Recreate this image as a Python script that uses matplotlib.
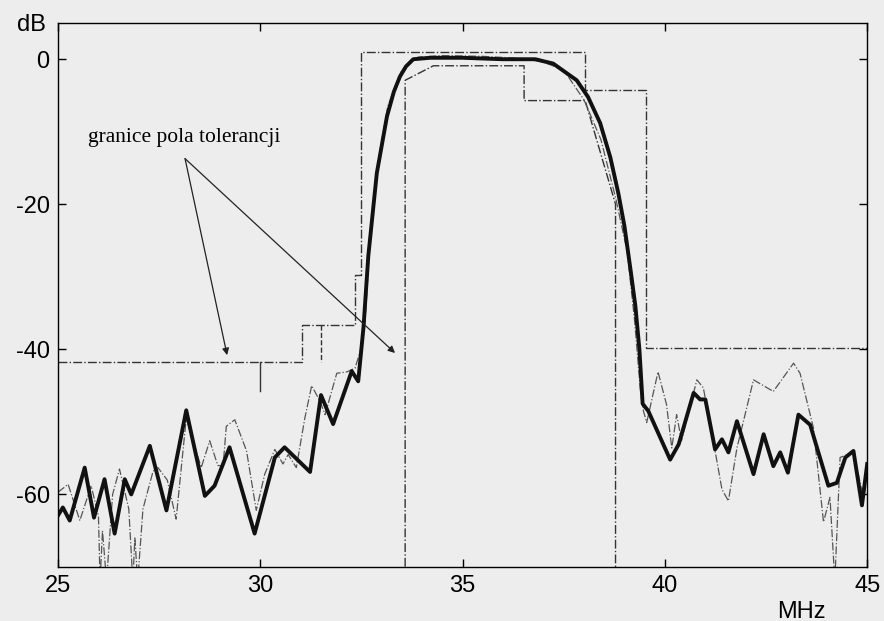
import matplotlib.pyplot as plt

plt.rcParams["axes.unicode_minus"] = False

# measured response (bold) and second response (thin dash-dot), MHz / dB
main_f = [25.00, 25.12, 25.29, 25.66, 25.89, 26.15, 26.40, 26.65, 26.81, 27.27,
          27.68, 28.17, 28.63, 28.87, 29.24, 29.86, 30.36, 30.60, 31.23, 31.50,
          31.80, 32.26, 32.42, 32.55, 32.67, 32.88, 33.13, 33.30, 33.45, 33.60,
          33.78, 34.20, 35.00, 36.00, 36.80, 37.24, 37.82, 38.10, 38.40, 38.65,
          38.85, 39.00, 39.15, 39.27, 39.37, 39.45, 39.59, 40.13, 40.34, 40.71,
          40.87, 41.00, 41.24, 41.41, 41.57, 41.78, 42.19, 42.44, 42.68, 42.85,
          43.04, 43.30, 43.59, 44.04, 44.25, 44.46, 44.66, 44.87, 45.00]
main_db = [-62.9, -61.8, -63.6, -56.3, -63.2, -57.9, -65.4, -57.9, -60.0, -53.3,
           -62.2, -48.4, -60.2, -58.8, -53.5, -65.4, -54.9, -53.5, -56.9, -46.3,
           -50.3, -43.0, -44.4, -37.0, -27.1, -15.7, -7.9, -4.5, -2.4, -1.0,
           0.0, 0.2, 0.2, 0.0, 0.0, -0.6, -2.9, -5.2, -8.8, -13.5,
           -18.5, -23.0, -29.0, -34.0, -40.0, -47.5, -48.5, -55.2, -53.1, -46.0,
           -46.9, -46.9, -53.8, -52.4, -54.2, -49.9, -57.2, -51.7, -56.1, -54.2,
           -57.0, -49.0, -50.4, -58.8, -58.4, -54.9, -54.0, -61.5, -55.8]

second_f = [25.00, 25.25, 25.54, 25.82, 26.00, 26.04, 26.10, 26.20, 26.35, 26.52,
            26.75, 26.85, 26.90, 26.97, 27.10, 27.35, 27.47, 27.70, 27.92, 28.17,
            28.54, 28.75, 28.95, 29.08, 29.16, 29.37, 29.66, 29.90, 30.11, 30.36,
            30.56, 30.69, 30.89, 31.10, 31.27, 31.48, 31.60, 31.89, 32.14, 32.34,
            32.47, 32.59, 32.70, 32.90, 33.15, 33.50, 33.90, 34.50, 35.50, 36.50,
            37.00, 37.50, 38.00, 38.42, 38.79, 39.07, 39.25, 39.40, 39.47, 39.55,
            39.83, 40.04, 40.17, 40.29, 40.41, 40.79, 40.95, 41.24, 41.41, 41.57,
            41.78, 42.19, 42.68, 43.18, 43.34, 43.67, 43.92, 44.08, 44.20, 44.33,
            44.66, 44.87, 45.00]
second_db = [-59.7, -58.6, -63.6, -58.8, -63.0, -72.0, -65.0, -72.0, -60.0, -56.5,
             -62.0, -72.0, -66.0, -72.0, -62.0, -56.8, -56.3, -58.0, -63.4, -49.5,
             -56.3, -52.6, -56.0, -56.1, -50.6, -49.7, -54.0, -62.2, -57.2, -53.8,
             -55.8, -54.5, -56.3, -49.5, -45.0, -47.2, -49.0, -43.3, -43.1, -42.6,
             -40.3, -36.2, -26.0, -14.5, -6.5, -1.5, 0.3, 0.5, 0.4, 0.1,
             -0.4, -1.5, -5.6, -11.1, -19.3, -26.6, -36.0, -46.0, -48.5, -50.1,
             -43.1, -47.6, -53.6, -49.0, -52.6, -44.2, -45.3, -54.0, -59.3, -60.9,
             -53.6, -44.2, -45.8, -41.9, -43.3, -50.8, -63.8, -60.4, -72.0, -54.9,
             -54.2, -59.5, -57.2]

# tolerance mask
upper_f = [25.0, 31.02, 31.02, 32.34, 32.34, 32.5, 32.5, 38.03, 38.03, 39.53, 39.53, 45.0]
upper_db = [-41.8, -41.8, -36.7, -36.7, -29.8, -29.8, 1.0, 1.0, -4.3, -4.3, -39.8, -39.8]
lower_f = [33.58, 33.58, 34.28, 36.52, 36.52, 38.03, 38.78, 38.78]
lower_db = [-72.0, -2.9, -0.9, -0.9, -5.7, -5.7, -20.0, -72.0]

x_ticks = [25, 30, 35, 40, 45]
y_ticks = [0, -20, -40, -60]

bg = "#ededed"
fig = plt.figure(figsize=(8.84, 6.21), dpi=100, facecolor=bg)
ax = fig.add_axes([0.0656, 0.087, 0.9154, 0.876], facecolor=bg)

ax.plot(upper_f, upper_db, color="#333333", lw=1.0, ls="-.")
ax.plot(lower_f, lower_db, color="#333333", lw=1.0, ls="-.")
ax.plot([30, 30], [-41.8, -45.8], color="#333333", lw=1.0)
ax.plot([31.5, 31.5], [-36.7, -41.7], color="#333333", lw=1.0, ls="--")
ax.plot(second_f, second_db, color="#555555", lw=0.9, ls="-.")
ax.plot(main_f, main_db, color="#111111", lw=2.8, solid_joinstyle="round")

ax.set_xlim(25, 45)
ax.set_ylim(-70, 5)
ax.set_xticks(x_ticks)
ax.set_yticks(y_ticks)
ax.tick_params(direction="in", top=True, right=True, length=6, width=1,
               labelsize=17, pad=6)
for lab in ax.get_xticklabels() + ax.get_yticklabels():
    lab.set_family("Liberation Sans")
for s in ax.spines.values():
    s.set_linewidth(1.0)

fig.text(0.036, 0.96, "dB", family="Liberation Sans", fontsize=17,
         ha="center", va="center")
fig.text(0.907, 0.015, "MHz", family="Liberation Sans", fontsize=17,
         ha="center", va="center")

ax.text(25.75, -10.8, "granice pola tolerancji", family="Liberation Serif",
        fontsize=15.5, va="center")
for end in [(29.18, -40.8), (33.33, -40.5)]:
    ax.annotate("", xy=end, xytext=(28.14, -13.7),
                arrowprops=dict(arrowstyle="-|>", color="#222222", lw=0.9,
                                mutation_scale=10, shrinkA=0, shrinkB=0))

plt.savefig("out.png", dpi=100, facecolor=bg)
